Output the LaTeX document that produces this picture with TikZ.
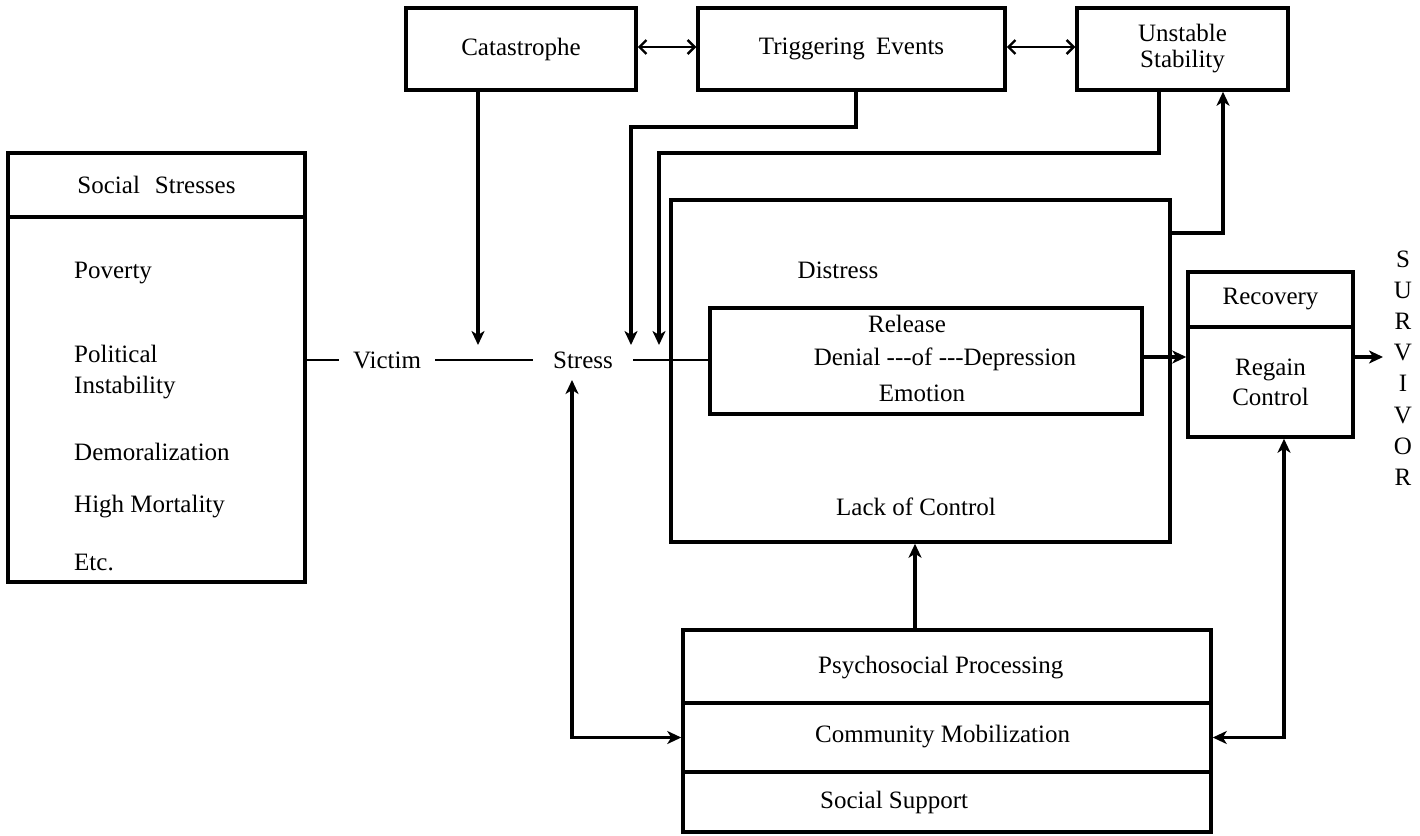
\documentclass[tikz,border=0pt]{standalone}
\usepackage{fontspec}
\setmainfont{Liberation Serif}
\usetikzlibrary{arrows.meta}
\begin{document}
\begin{tikzpicture}[x=1pt,y=-1pt,
  every node/.style={font=\fontsize{25}{30}\selectfont, inner sep=0pt},
  box/.style={draw, line width=3.5pt, rectangle},
  lbl/.style={anchor=west},
  conn/.style={line width=3.2pt},
  thinline/.style={line width=2.2pt},
  tip/.style={-{Stealth[length=14pt,width=13pt,inset=4pt]}},
  tips/.style={{Stealth[length=14pt,width=13pt,inset=4pt]}-{Stealth[length=14pt,width=13pt,inset=4pt]}},
  dbl/.style={line width=2.4pt,{Straight Barb[length=7pt,width=14pt]}-{Straight Barb[length=7pt,width=14pt]}}
]
\useasboundingbox (0,0) rectangle (1420,835);

% top boxes
\node[box, minimum width=230pt, minimum height=82pt] (cat) at (521,49) {Catastrophe};
\node[box, minimum width=307pt, minimum height=82pt] (trig) at (851.5,49) {Triggering\hspace{0.45em}Events};
\node[box, minimum width=211pt, minimum height=82pt, align=center, font=\fontsize{25}{26}\selectfont] (unst) at (1182.5,49) {Unstable\\Stability};

% social stresses
\node[box, minimum width=297pt, minimum height=64pt] (ssh) at (156.5,185) {Social\hspace{0.6em}Stresses};
\node[box, minimum width=297pt, minimum height=365pt] (ssb) at (156.5,399.5) {};
\node[lbl] (pov) at (74,273) {Poverty};
\node[lbl, align=left, font=\fontsize{25}{31}\selectfont] (pol) at (74,372) {Political\\Instability};
\node[lbl] (dem) at (74,452) {Demoralization};
\node[lbl] (mort) at (74,507) {High Mortality};
\node[lbl] (etc) at (74,562) {Etc.};

% victim / stress
\node[inner xsep=14pt, inner ysep=6pt] (victim) at (387,360) {Victim};
\node[inner xsep=20pt, inner ysep=6pt] (stress) at (583,360) {Stress};

% main box
\node[box, minimum width=499pt, minimum height=342pt] (main) at (920.5,371) {};
\node (distress) at (838,270) {Distress};
\node (lack) at (916,507) {Lack of Control};
\node[box, minimum width=432pt, minimum height=106pt] (inner) at (926,361) {};
\node (release) at (907,324) {Release};
\node (denial) at (945,359) {Denial -{}-{}-of -{}-{}-Depression};
\node (emotion) at (922,393) {Emotion};

% recovery
\node[box, minimum width=165pt, minimum height=55pt] (rec) at (1270.5,299.5) {Recovery};
\node[box, minimum width=165pt, minimum height=110pt, align=center] (reg) at (1270.5,382) {Regain\\Control};

% survivor
\foreach \l [count=\i] in {S,U,R,V,I,V,O,R}
  \node (sv\i) at (1403,{259+31.2*(\i-1)}) {\l};

% bottom box
\node[box, minimum width=528pt, minimum height=73pt] (psy) at (947,666.5) {};
\node[box, minimum width=528pt, minimum height=69pt] (com) at (947,737.5) {};
\node[box, minimum width=528pt, minimum height=60pt] (sup) at (947,802) {};
\node[lbl] (psyt) at (818,668) {Psychosocial Processing};
\node[lbl] (comt) at (815,737) {Community Mobilization};
\node[lbl] (supt) at (820,802) {Social Support};

% coordinates
\coordinate (cx) at (478,0);
\coordinate (ca) at (478,345);
\coordinate (tx) at (856,0);
\coordinate (tb) at (631,127);
\coordinate (ta) at (631,345);
\coordinate (ux) at (1159,0);
\coordinate (ub) at (659,153);
\coordinate (ua) at (659,345);
\coordinate (my) at (0,233);
\coordinate (mx) at (1223,0);
\coordinate (ry) at (0,357);
\coordinate (svx) at (1383,357);
\coordinate (sa) at (572,380);
\coordinate (rx) at (1284,0);
\coordinate (px) at (915,0);
\coordinate (ay) at (0,47);

% connectors
\draw[dbl] (cat.east |- ay) -- (trig.west |- ay);
\draw[dbl] (trig.east |- ay) -- (unst.west |- ay);
\draw[conn,tip] (cat.south -| cx) -- (ca);
\draw[conn,tip] (trig.south -| tx) |- (tb) -- (ta);
\draw[conn,tip] (unst.south -| ux) |- (ub) -- (ua);
\draw[conn,tip] (main.east |- my) -| (unst.south -| mx);
\draw[thinline] (ssb.east |- victim) -- (victim.west);
\draw[thinline] (victim.east) -- (stress.west);
\draw[thinline] (stress.east) -- (stress.east -| inner.west);
\draw[conn,tip] (inner.east |- ry) -- (rec.west |- ry);
\draw[conn,tip] (reg.east |- ry) -- (svx);
\draw[conn,tips] (sa) |- (com.west);
\draw[conn,tips] (reg.south -| rx) |- (com.east);
\draw[conn,tip] (psy.north -| px) -- (main.south -| px);
\end{tikzpicture}
\end{document}
